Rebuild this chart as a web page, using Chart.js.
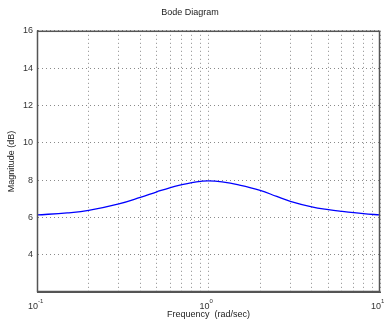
<!DOCTYPE html>
<html>
<head>
<meta charset="utf-8">
<script src="https://cdn.jsdelivr.net/npm/chart.js@4/dist/chart.umd.min.js"></script>
<style>
  html, body { margin: 0; padding: 0; background: white; }
  #wrap { width: 384px; height: 327px; }
</style>
</head>
<body>
<div id="wrap"><canvas id="bodeChart" width="384" height="327"></canvas></div>
<script>
// values
const freqs = [0.1, 0.15, 0.2, 0.3, 0.4, 0.5, 0.6, 0.7, 0.8, 0.9, 1, 1.2, 1.5, 2, 2.5, 3, 4, 5, 6, 8, 10]
const magDb = [6.13, 6.24, 6.37, 6.72, 7.07, 7.37, 7.6, 7.75, 7.86, 7.93, 7.96, 7.9, 7.74, 7.45, 7.12, 6.86, 6.56, 6.41, 6.32, 6.2, 6.13]
const gridFreqs = [0.1, 0.2, 0.3, 0.4, 0.5, 0.6, 0.7, 0.8, 0.9, 1, 2, 3, 4, 5, 6, 7, 8, 9, 10]
const decadeExps = [-1, 0, 1]
const yTicks = [2, 4, 6, 8, 10, 12, 14, 16]

const FONT = "Liberation Sans, Arial, sans-serif"
const AXIS_COLOR = "#555"

// draws the box, decade labels and axis titles
const decorations = {
    id: 'decorations',
    afterDraw(chart) {
        const ctx = chart.ctx
        const area = chart.chartArea
        const xs = chart.scales.x
        ctx.save()
        ctx.strokeStyle = AXIS_COLOR
        ctx.lineWidth = 1.5
        ctx.strokeRect(area.left + 0.5, area.top + 0.5, area.right - area.left - 1, area.bottom - area.top - 1)

        ctx.fillStyle = "#333"
        decadeExps.forEach(e => {
            const px = xs.getPixelForValue(Math.pow(10, e))
            ctx.font = "9px " + FONT
            ctx.textAlign = "right"
            ctx.textBaseline = "alphabetic"
            ctx.fillText("10", px + 1, area.bottom + 17)
            ctx.font = "6px " + FONT
            ctx.textAlign = "left"
            ctx.fillText(String(e), px + 1, area.bottom + 11)
        })

        ctx.font = "9px " + FONT
        ctx.textAlign = "center"
        ctx.fillStyle = "#222"
        ctx.fillText("Frequency  (rad/sec)", (area.left + area.right) / 2, area.bottom + 25)

        ctx.translate(14, (area.top + area.bottom) / 2)
        ctx.rotate(-Math.PI / 2)
        ctx.fillText("Magnitude (dB)", 0, 0)
        ctx.restore()
    }
}

Chart.register({
    id: 'whiteBackground',
    beforeDraw(chart) {
        const ctx = chart.canvas.getContext("2d")
        ctx.fillStyle = "white"
        ctx.fillRect(0, 0, chart.width, chart.height)
    }
})

const ctx = document.getElementById("bodeChart").getContext('2d')
const chart = new Chart(ctx, {
    type: "line",
    data: {
        datasets: [{
            data: freqs.map((f, i) => ({ x: f, y: magDb[i] })),
            borderColor: "#0000ff",
            borderWidth: 1.3,
            pointRadius: 0,
            tension: 0.4,
            fill: false
        }]
    },
    options: {
        responsive: false,
        animation: false,
        layout: { padding: { left: 0, right: 4, top: 0, bottom: 0 } },
        scales: {
            x: {
                type: 'logarithmic',
                min: 0.1,
                max: 10,
                afterBuildTicks: s => { s.ticks = gridFreqs.map(v => ({ value: v })) },
                afterFit: s => { s.height = 35 },
                ticks: { display: false },
                grid: { color: "#8a8a8a", lineWidth: 1, drawTicks: false },
                border: { display: true, color: AXIS_COLOR, dash: [1, 3] }
            },
            y: {
                min: 2,
                max: 16,
                afterBuildTicks: s => { s.ticks = yTicks.map(v => ({ value: v })) },
                afterFit: s => { s.width = 37 },
                ticks: {
                    padding: 4,
                    color: "#333",
                    font: { family: FONT, size: 9 },
                    callback: v => (v == 2 ? "" : String(v))
                },
                grid: { color: "#8a8a8a", lineWidth: 1, drawTicks: false },
                border: { display: true, color: AXIS_COLOR, dash: [1, 3] }
            }
        },
        plugins: {
            legend: { display: false },
            tooltip: { enabled: false },
            title: {
                display: true,
                text: "Bode Diagram",
                color: "#222",
                font: { family: FONT, size: 9, weight: 'normal' },
                padding: { top: 7, bottom: 13 }
            }
        }
    },
    plugins: [decorations]
})
</script>
</body>
</html>
